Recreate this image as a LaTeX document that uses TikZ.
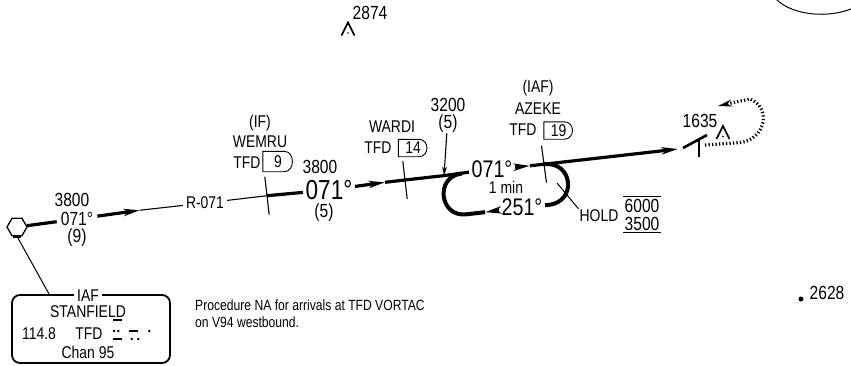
\documentclass[tikz,border=0pt]{standalone}
\usepackage{fontspec}
\setmainfont{Liberation Sans}[FakeStretch=0.82]
\usetikzlibrary{shapes.geometric, arrows.meta}

\tikzset{
  txt/.style={font=\fontsize{17}{18}\selectfont, inner sep=1pt},
  num/.style={font=\fontsize{19}{17}\selectfont, inner sep=1pt},
  hdg/.style={font=\fontsize{24}{26}\selectfont, inner sep=2.5pt},
  bighdg/.style={font=\fontsize{27.5}{29}\selectfont, inner sep=2.5pt},
  note/.style={font=\fontsize{14.8}{17}\selectfont, inner sep=0pt},
  route/.style={line width=3.2pt},
  radial/.style={line width=1.1pt},
  holdline/.style={line width=4pt},
  fixtick/.style={line width=1.1pt},
  leader/.style={line width=1pt},
  tip/.style={-{Stealth[length=16pt,width=7pt,inset=4pt]}},
  dme/.style={txt, minimum width=29pt, minimum height=17pt, inner sep=0pt},
  missed/.style={line width=3.2pt, dash pattern=on 1.3pt off 2.2pt},
  obst/.pic={
    \draw[line width=1.6pt] (-6.5,6.5) -- (0,-6.5) -- (6.5,6.5);
    \fill (0,4) circle (0.9pt);
  }
}

% D shaped DME box round a node
\newcommand{\dmebox}[1]{\draw[line width=0.9pt] (#1.south west) -- (#1.north west) -- ([xshift=-9pt]#1.north east) .. controls ([xshift=2pt]#1.north east) and ([xshift=2pt]#1.south east) .. ([xshift=-9pt]#1.south east) -- cycle;}

\begin{document}
\begin{tikzpicture}[x=1pt, y=-1pt]
\useasboundingbox (0,0) rectangle (851,365);

% terrain / spot heights
\draw[line width=1pt] (775,-2) .. controls (795,20) and (850,20) .. (870,-4);
\pic at (348,29) {obst};
\node[num] (e2874) at (370,13) {2874};
\fill (801,299) circle (2.5pt);
\node[num] (e2628) at (827,293) {2628};

% VORTAC
\node[draw, regular polygon, regular polygon sides=6, minimum size=20pt, line width=1.3pt, inner sep=0pt] (vor) at (17,227) {};
\draw[line width=3pt] ([xshift=-4pt]vor.south) -- ([xshift=4pt]vor.south);

% route points
\coordinate (r1) at (140,210.2);
\coordinate (wemru) at (267,195.7);
\coordinate (r2) at (385,182.3);
\coordinate (wardi) at (405,180);
\coordinate (c3200) at (444,175.6);
\coordinate (r3) at (530,165.8);
\coordinate (azeke) at (544,164.2);
\coordinate (mapt) at (678,149);

% route labels
\node[num] (alt1) at (72,200) {3800};
\node[num, inner sep=4pt] (crs1) at (77,219) {071°};
\node[num] (dist1) at (77,238) {(9)};
\node[txt, inner sep=3pt] (r071) at (205,203) {R-071};
\node[num] (alt2) at (320,167) {3800};
\node[bighdg] (crs2) at (329,190) {071°};
\node[num] (dist2) at (324,213) {(5)};
\node[hdg] (h071) at (492,169) {071°};

% route
\draw[route] (vor) -- (crs1);
\draw[route, tip] (crs1) -- (r1);
\draw[radial] (r1) -- (r071);
\draw[radial] (r071) -- (wemru);
\draw[route] (wemru) -- (crs2);
\draw[route, tip] (crs2) -- (r2);
\draw[route] (r2) -- (wardi) -- (c3200) -- (h071);
\draw[route, tip] (h071) -- (r3);
\draw[route, tip] (r3) -- (azeke) -- (mapt);

% fixes
\draw[fixtick] (wemru) ++(-2.2,-19) -- ++(4.4,38);
\draw[fixtick] (wardi) ++(-2.2,-19) -- ++(4.4,38);
\draw[fixtick] (azeke) ++(-2.5,-18.5) -- ++(5,37);

\node[txt] (ifw) at (260,123) {(IF)};
\node[txt] (wemrun) at (260,142) {WEMRU};
\node[txt] (tfd9) at (247,163) {TFD};
\node[dme, minimum height=20pt, minimum width=30pt] (d9) at (278,161.5) {9};
\dmebox{d9}

\node[txt] (wardin) at (392,127) {WARDI};
\node[txt] (tfd14) at (378,148) {TFD};
\node[dme] (d14) at (413,148) {14};
\dmebox{d14}

\node[num, align=center] (a3200) at (448,115) {3200\\(5)};
\draw[radial, -{Stealth[length=9pt,width=5pt]}] (a3200) -- (c3200);

\node[txt] (iafa) at (538,88) {(IAF)};
\node[txt] (azeken) at (538,109) {AZEKE};
\node[txt] (tfd19) at (523,130) {TFD};
\node[dme] (d19) at (558.5,130.5) {19};
\dmebox{d19}

% holding pattern
\node[hdg] (h251) at (522,207) {251°};
\node[txt] (hmin) at (506,187) {1 min};
\begin{scope}[shift={(544,164.2)}, rotate=6.5]
  \coordinate (hbr) at (0,41);
  \coordinate (harr) at (-64,41);
  \coordinate (hbl) at (-83,41);
  \coordinate (htl) at (-83,0);
  \draw[holdline] (azeke) .. controls (29,0) and (29,41) .. (hbr) -- (h251);
  \draw[holdline, tip] (h251) -- (harr);
  \draw[holdline] (harr) -- (hbl) .. controls (-110,41) and (-110,0) .. (htl);
\end{scope}

\coordinate (holdpt) at (557,183);
\node[txt] (holdn) at (599,216) {HOLD};
\node[num] (hmax) at (642,206) {6000};
\node[num] (hmin2) at (642,223.5) {3500};
\draw[leader] (holdn.north west) -- (holdpt);
\draw[line width=1pt] ([yshift=1.5pt]hmax.north west) -- ([yshift=1.5pt]hmax.north east);
\draw[line width=1pt] ([yshift=-1pt]hmin2.south west) -- ([yshift=-1pt]hmin2.south east);

% missed approach
\draw[line width=2.6pt] (683,148) -- (707,135);
\draw[line width=2.4pt] (699,139.5) -- (699,157);
\pic at (723,132.5) {obst};
\node[num] (e1635) at (700,121) {1635};
\draw[missed, -{Stealth[length=14pt,width=7pt]}] (705,145) -- (740,142.5) .. controls (765,140) and (772,108) .. (750,99) -- (718,106);

% IAF box
\node[draw, rounded corners=8pt, line width=1.8pt, minimum width=158pt, minimum height=68pt] (stan) at (91,329) {};
\draw[leader] (vor.south) -- ([xshift=38pt]stan.north west);
\node[txt, fill=white, inner sep=3pt] (iafn) at (88,296) {IAF};
\node[txt] (stann) at (88,312) {STANFIELD};
\node[txt] (freq) at (39,334) {114.8};
\node[txt] (ident) at (89,334) {TFD};
\node[txt] (chan) at (88,352) {Chan 95};

% morse TFD
\draw[line width=2.4pt] (113,320) -- (122,320);
\fill (114,331) circle (1.4pt) (118.3,331) circle (1.4pt) (149.3,331) circle (1.4pt);
\draw[line width=2.4pt] (129,331) -- (138,331);
\draw[line width=2.4pt] (113,339) -- (122,339);
\fill (131.7,339) circle (1.4pt) (138.3,339) circle (1.4pt);

% note
\node[note, anchor=west, align=left] (note) at (195,313.5) {Procedure NA for arrivals at TFD VORTAC\\on V94 westbound.};

\end{tikzpicture}
\end{document}
